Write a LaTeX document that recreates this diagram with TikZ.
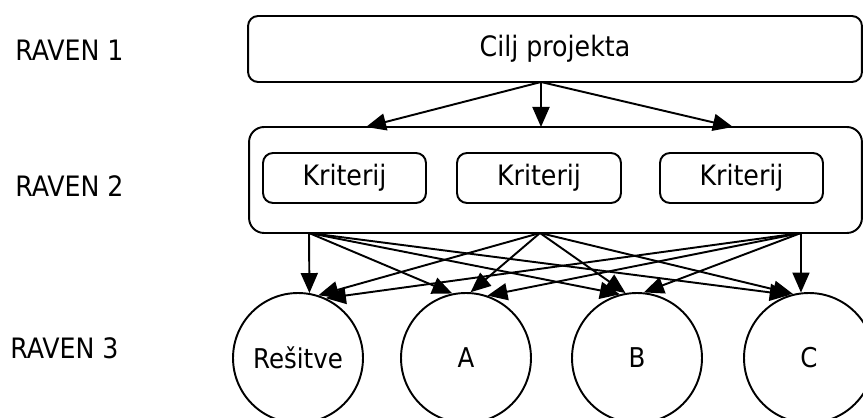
\documentclass[tikz,border=0pt]{standalone}
\usepackage{fontspec}
\setmainfont{DejaVu Sans Condensed}
\usetikzlibrary{arrows.meta}
\begin{document}
\begin{tikzpicture}[x=0.02cm,y=-0.02cm,
  font=\fontsize{16}{19}\selectfont,
  box/.style={draw,line width=1.1pt,rounded corners=0.2cm,inner sep=0pt},
  alt/.style={draw,line width=1.1pt,circle,minimum size=2.6cm,inner sep=0pt,font=\fontsize{15.5}{18}\selectfont},
  lvl/.style={anchor=west,inner sep=0pt},
  arr/.style={line width=1.1pt,-{Triangle[length=0.4cm,width=0.34cm]}}]
\useasboundingbox (0,0) rectangle (863,418);
\clip (0,0) rectangle (863,418);
% levels
\node[lvl] (r1) at (15,50) {RAVEN 1};
\node[lvl] (r2) at (15,186) {RAVEN 2};
\node[lvl] (r3) at (10,348) {RAVEN 3};
% goal and criteria
\node[box,minimum width=12.28cm,minimum height=1.32cm] (cilj) at (555,49) {Cilj projekta};
\node[box,rounded corners=0.3cm,minimum width=12.26cm,minimum height=2.12cm] (krit) at (555.5,180) {};
\node[box,minimum width=3.26cm,minimum height=1cm] (k1) at (344.5,178) {Kriterij};
\node[box,minimum width=3.28cm,minimum height=1cm] (k2) at (539,178) {Kriterij};
\node[box,minimum width=3.26cm,minimum height=1cm] (k3) at (741.5,178) {Kriterij};
% alternatives
\node[alt] (res) at (298,358) {Rešitve};
\node[alt] (a) at (466,358) {A};
\node[alt] (b) at (637,358) {B};
\node[alt] (c) at (809,358) {C};
\coordinate (top) at (541,82);
\coordinate (t1) at (366,127);
\coordinate (t2) at (541,127);
\coordinate (t3) at (733,127);
\draw[arr] (top)--(t1);
\draw[arr] (top)--(t2);
\draw[arr] (top)--(t3);
\coordinate (s1) at (309,233);
\coordinate (s2) at (540,233);
\coordinate (s3) at (801,233);
\draw[arr] (s1)--(res.80);
\draw[arr] (s1)--(a.102);
\draw[arr] (s1)--(b.105);
\draw[arr] (s1)--(c.107);
\draw[arr] (s2)--(res.72);
\draw[arr] (s2)--(a.86);
\draw[arr] (s2)--(b.100);
\draw[arr] (s2)--(c.104);
\draw[arr] (s3)--(res.65);
\draw[arr] (s3)--(a.71);
\draw[arr] (s3)--(b.84);
\draw[arr] (s3)--(c.97);
\end{tikzpicture}
\end{document}
